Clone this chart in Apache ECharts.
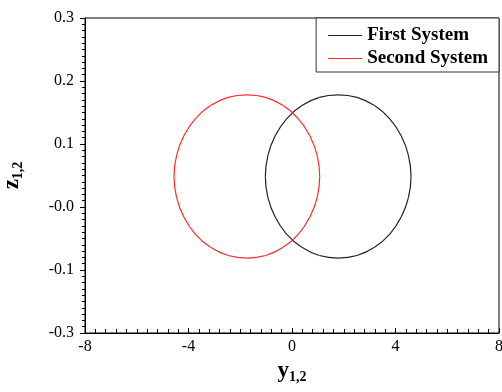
<!DOCTYPE html>
<html>
<head>
<meta charset="utf-8">
<script src="https://cdn.jsdelivr.net/npm/echarts@6/dist/echarts.min.js"></script>
<style>
  html, body { margin: 0; padding: 0; background: #fff; }
  #chart { width: 502px; height: 392px; }
</style>
</head>
<body>
<div id="chart"></div>
<script>
// Phase-plane orbits (y, z) of the two coupled systems (closed loops)
const firstSystem = [
  [4.60, 0.0485], [4.50, 0.082], [4.22, 0.113], [3.78, 0.140], [3.19, 0.161],
  [2.51, 0.174], [1.79, 0.178], [1.06, 0.174], [0.38, 0.161], [-0.21, 0.140],
  [-0.65, 0.113], [-0.93, 0.082], [-1.03, 0.0485], [-0.93, 0.015], [-0.65, -0.016],
  [-0.21, -0.043], [0.38, -0.064], [1.06, -0.077], [1.79, -0.081], [2.51, -0.077],
  [3.19, -0.064], [3.78, -0.043], [4.22, -0.016], [4.50, 0.015]
];
const secondSystem = [
  [1.07, 0.0485], [0.97, 0.082], [0.69, 0.113], [0.25, 0.140], [-0.34, 0.161],
  [-1.02, 0.174], [-1.745, 0.178], [-2.47, 0.174], [-3.15, 0.161], [-3.74, 0.140],
  [-4.18, 0.113], [-4.46, 0.082], [-4.56, 0.0485], [-4.46, 0.015], [-4.18, -0.016],
  [-3.74, -0.043], [-3.15, -0.064], [-2.47, -0.077], [-1.745, -0.081], [-1.02, -0.077],
  [-0.34, -0.064], [0.25, -0.043], [0.69, -0.016], [0.97, 0.015]
];
const seriesNames = ['First System', 'Second System'];
const seriesColors = ['#222222', '#ff2a2a'];
const xTicks = [-8, -4, 0, 4, 8];
const yTickLabels = ['-0.3', '-0.1', '-0.0', '0.1', '0.2', '0.3'];

const serif = '"Liberation Serif", "Times New Roman", serif';
const chart = echarts.init(document.getElementById('chart'), null, { renderer: 'canvas' });

const nameRich = {
  m: { fontFamily: serif, fontWeight: 'bold', fontSize: 23, color: '#000' },
  s: { fontFamily: serif, fontWeight: 'bold', fontSize: 14, color: '#000', padding: [12, 0, 0, 0] }
};

// Closed Catmull-Rom curve through the orbit samples, in pixel space
function loopRenderer(points, color) {
  return function (params, api) {
    if (params.dataIndex !== 0) return null;
    const p = points.map(pt => api.coord(pt));
    const n = p.length;
    const children = [];
    for (let i = 0; i < n; i++) {
      const p0 = p[(i - 1 + n) % n], p1 = p[i], p2 = p[(i + 1) % n], p3 = p[(i + 2) % n];
      children.push({
        type: 'bezierCurve',
        shape: {
          x1: p1[0], y1: p1[1], x2: p2[0], y2: p2[1],
          cpx1: p1[0] + (p2[0] - p0[0]) / 6, cpy1: p1[1] + (p2[1] - p0[1]) / 6,
          cpx2: p2[0] - (p3[0] - p1[0]) / 6, cpy2: p2[1] - (p3[1] - p1[1]) / 6
        },
        style: { stroke: color, lineWidth: 1.2, fill: null }
      });
    }
    return { type: 'group', children: children };
  };
}

chart.setOption({
  animation: false,
  backgroundColor: '#ffffff',
  grid: {
    left: 85, right: 3, top: 18, bottom: 59,
    containLabel: false,
    outerBoundsMode: 'none',
    show: true, borderColor: '#000', borderWidth: 1
  },
  legend: {
    orient: 'vertical',
    right: 3, top: 18,
    padding: [8, 11, 4, 12],
    itemGap: 4,
    itemWidth: 34, itemHeight: 1,
    icon: 'rect',
    borderColor: '#333', borderWidth: 1,
    backgroundColor: '#fff',
    textStyle: { fontFamily: serif, fontWeight: 'bold', fontSize: 19, color: '#000' },
    data: seriesNames
  },
  xAxis: {
    type: 'value',
    min: xTicks[0], max: xTicks[xTicks.length - 1], interval: 4,
    axisLine: { onZero: false, lineStyle: { color: '#000', width: 1 } },
    axisTick: { inside: true, length: 5, lineStyle: { color: '#000' } },
    minorTick: { show: true, splitNumber: 10, length: 4, lineStyle: { color: '#000' } },
    splitLine: { show: false },
    axisLabel: { fontFamily: serif, fontSize: 16, color: '#000', margin: 6 },
    name: '{m|y}{s|1,2}',
    nameLocation: 'middle',
    nameGap: 22,
    nameTextStyle: { rich: nameRich }
  },
  yAxis: {
    type: 'value',
    min: -0.2, max: 0.3, interval: 0.1,
    axisLine: { onZero: false, lineStyle: { color: '#000', width: 1 } },
    axisTick: { inside: false, length: 5, lineStyle: { color: '#000' } },
    minorTick: { show: true, splitNumber: 10, length: 3, lineStyle: { color: '#000' } },
    splitLine: { show: false },
    axisLabel: {
      fontFamily: serif, fontSize: 16, color: '#000', margin: 11,
      formatter: v => yTickLabels[Math.round((v + 0.2) / 0.1)]
    },
    name: '{m|z}{s|1,2}',
    nameLocation: 'middle',
    nameGap: 60,
    nameRotate: 90,
    nameTextStyle: { rich: nameRich }
  },
  series: [firstSystem, secondSystem].map((d, i) => ({
    name: seriesNames[i],
    type: 'custom',
    coordinateSystem: 'cartesian2d',
    data: d,
    encode: { x: 0, y: 1 },
    color: seriesColors[i],
    itemStyle: { color: seriesColors[i] },
    clip: true,
    renderItem: loopRenderer(d, seriesColors[i])
  }))
});
</script>
</body>
</html>
